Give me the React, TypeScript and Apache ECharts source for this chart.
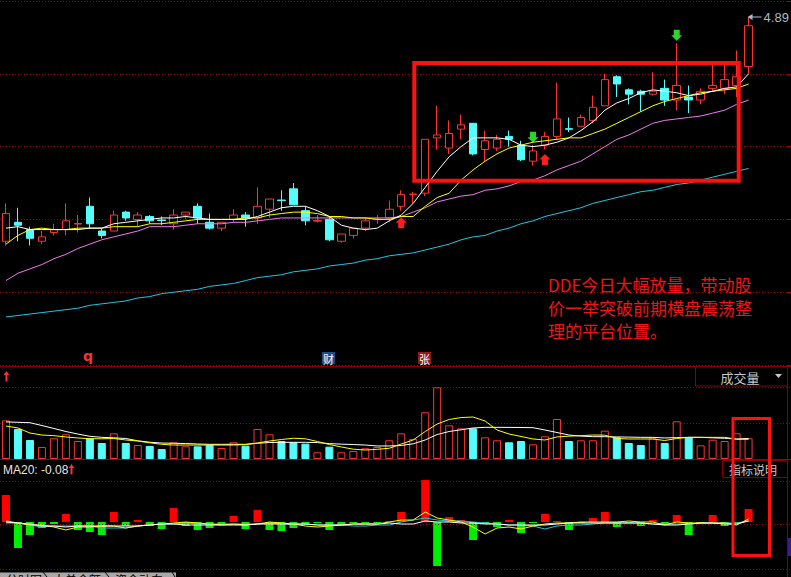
import React, { useEffect, useRef } from "react";
import * as echarts from "echarts";

// ---------- data ----------
const categories = [
  "D01","D02","D03","D04","D05","D06","D07","D08","D09","D10",
  "D11","D12","D13","D14","D15","D16","D17","D18","D19","D20",
  "D21","D22","D23","D24","D25","D26","D27","D28","D29","D30",
  "D31","D32","D33","D34","D35","D36","D37","D38","D39","D40",
  "D41","D42","D43","D44","D45","D46","D47","D48","D49","D50",
  "D51","D52","D53","D54","D55","D56","D57","D58","D59","D60",
  "D61","D62","D63","D64","D65","D66",
];

const open = [
  3.35,3.48,3.43,3.35,3.41,3.43,3.468,3.59,3.42,3.42,
  3.55,3.50,3.52,3.496,3.47,3.53,3.59,3.48,3.44,3.50,
  3.53,3.51,3.57,3.633,3.71,3.56,3.488,3.50,3.35,3.39,
  3.44,3.498,3.51,3.59,3.670,3.68,4.06,3.99,4.12,4.16,
  3.98,3.99,4.07,4.01,3.90,4.01,4.07,4.123,4.14,4.18,
  4.28,4.48,4.39,4.38,4.36,4.40,4.32,4.34,4.32,4.40,
  4.40,4.42,4.55,
];
const close = [
  3.54,3.46,3.37,3.38,3.43,3.49,3.472,3.47,3.39,3.53,
  3.51,3.53,3.49,3.492,3.53,3.55,3.51,3.44,3.48,3.53,
  3.51,3.59,3.64,3.629,3.60,3.49,3.492,3.36,3.40,3.44,
  3.49,3.502,3.57,3.67,3.674,4.05,4.08,4.09,4.15,3.95,
  4.04,4.05,4.05,3.91,3.97,4.07,4.19,4.119,4.20,4.27,
  4.46,4.43,4.36,4.36,4.38,4.32,4.42,4.32,4.38,4.42,
  4.46,4.48,4.83,
];
const low = [
  3.32,3.35,3.32,3.33,3.39,3.39,3.41,3.44,3.37,3.42,
  3.49,3.45,3.47,3.46,3.43,3.50,3.47,3.43,3.42,3.48,
  3.45,3.47,3.51,3.56,3.60,3.46,3.48,3.35,3.34,3.37,
  3.42,3.47,3.48,3.56,3.61,3.66,3.98,3.95,4.05,3.94,
  3.90,3.97,4.00,3.90,3.87,3.98,4.05,4.10,4.14,4.16,
  4.28,4.34,4.29,4.24,4.35,4.28,4.25,4.23,4.29,4.38,
  4.36,4.34,4.50,
];
const high = [
  3.61,3.58,3.45,3.42,3.47,3.61,3.53,3.65,3.44,3.56,
  3.56,3.55,3.53,3.52,3.57,3.55,3.61,3.54,3.48,3.57,
  3.55,3.72,3.64,3.70,3.75,3.59,3.53,3.52,3.40,3.44,
  3.51,3.53,3.63,3.70,3.69,4.05,4.28,4.18,4.22,4.16,
  4.11,4.08,4.11,4.04,4.01,4.10,4.44,4.20,4.22,4.35,
  4.50,4.49,4.40,4.39,4.51,4.46,4.71,4.42,4.40,4.57,
  4.56,4.66,4.89,
];

const ma5 = [
  3.44,3.45,3.43,3.43,3.43,3.43,3.43,3.44,3.44,3.47,
  3.48,3.49,3.50,3.51,3.51,3.52,3.51,3.50,3.50,3.50,
  3.50,3.52,3.55,3.58,3.59,3.59,3.56,3.52,3.46,3.44,
  3.43,3.44,3.49,3.53,3.61,3.72,3.83,3.93,4.00,4.06,
  4.06,4.06,4.05,4.01,4.00,4.01,4.03,4.06,4.11,4.17,
  4.25,4.30,4.33,4.37,4.39,4.38,4.37,4.35,4.36,4.38,
  4.40,4.41,4.50,
];
const ma10 = [
  3.33,3.39,3.43,3.44,3.43,3.43,3.44,3.44,3.44,3.45,
  3.45,3.45,3.47,3.47,3.48,3.49,3.50,3.50,3.50,3.50,
  3.51,3.51,3.53,3.54,3.55,3.55,3.54,3.52,3.52,3.51,
  3.51,3.50,3.50,3.52,3.52,3.59,3.65,3.68,3.77,3.84,
  3.90,3.95,3.99,4.01,4.03,4.04,4.05,4.06,4.06,4.09,
  4.12,4.16,4.20,4.24,4.28,4.31,4.33,4.35,4.37,4.38,
  4.39,4.40,4.43,
];
const ma20 = [
  3.08,3.13,3.16,3.19,3.23,3.26,3.30,3.33,3.36,3.38,
  3.40,3.42,3.45,3.45,3.45,3.46,3.47,3.47,3.47,3.48,
  3.48,3.49,3.50,3.51,3.51,3.51,3.51,3.51,3.51,3.51,
  3.51,3.51,3.51,3.52,3.55,3.58,3.62,3.64,3.66,3.67,
  3.70,3.71,3.73,3.76,3.77,3.80,3.84,3.87,3.90,3.95,
  4.00,4.05,4.08,4.12,4.16,4.18,4.19,4.20,4.21,4.23,
  4.25,4.29,4.32,
];
const ma60 = [
  2.83,2.84,2.85,2.86,2.87,2.88,2.89,2.91,2.92,2.93,
  2.94,2.96,2.97,2.99,3.00,3.01,3.02,3.04,3.05,3.06,
  3.08,3.10,3.11,3.12,3.14,3.15,3.16,3.18,3.19,3.20,
  3.22,3.23,3.25,3.26,3.27,3.29,3.31,3.33,3.36,3.38,
  3.39,3.42,3.44,3.47,3.49,3.52,3.54,3.56,3.58,3.61,
  3.63,3.65,3.67,3.69,3.70,3.72,3.74,3.75,3.77,3.79,
  3.81,3.83,3.85,
];

const volume = [
  5.37,4.17,2.64,1.67,2.88,3.43,2.50,2.88,2.22,3.57,
  2.22,1.94,1.81,1.39,2.32,1.76,1.76,1.94,1.53,2.32,
  1.85,4.17,3.43,2.50,2.32,2.13,0.93,1.71,0.93,1.11,
  1.49,1.67,2.60,3.57,2.78,6.49,9.96,4.68,4.26,4.26,
  3.01,2.60,2.32,2.50,2.04,3.15,5.56,2.50,2.60,2.60,
  3.93,3.01,2.22,1.94,2.88,2.22,5.24,3.01,1.90,2.68,
  2.50,3.57,2.88,
];
const volMa5 = [
  4.58,4.31,3.61,3.33,3.24,3.06,2.92,2.82,2.81,2.85,
  2.64,2.50,2.25,2.04,1.94,1.94,1.94,1.94,1.94,1.94,
  2.01,2.22,2.50,2.71,2.88,2.81,2.43,2.01,1.67,1.36,
  1.25,1.35,1.49,2.08,2.64,3.82,4.86,5.49,5.76,5.83,
  5.28,4.03,3.47,3.13,2.78,2.64,3.06,3.17,3.24,3.33,
  3.31,2.85,2.78,2.78,2.78,2.57,2.85,3.01,3.01,3.01,
  3.01,2.74,2.74,
];
const volMa10 = [
  5.15,5.10,5.04,4.65,4.24,3.82,3.47,3.15,3.01,2.94,
  2.85,2.53,2.33,2.22,2.18,2.15,2.08,2.04,2.04,2.04,
  2.04,2.19,2.29,2.32,2.32,2.32,2.28,2.14,2.06,2.01,
  1.94,1.81,1.81,1.88,2.11,2.64,3.40,3.82,4.06,4.31,
  4.40,4.40,4.39,4.38,4.35,4.03,3.68,3.33,3.19,3.10,
  3.10,3.07,3.04,3.01,3.01,2.92,2.97,3.01,3.01,2.94,
  2.88,2.78,2.85,
];

const dde = [
  0.27,-0.26,-0.13,-0.06,-0.02,0.08,-0.08,-0.10,-0.13,0.10,
  -0.04,0.02,-0.04,-0.07,0.14,-0.04,-0.08,-0.06,-0.03,0.06,
  -0.07,0.12,-0.08,-0.09,-0.06,-0.03,-0.01,-0.08,-0.03,-0.01,
  -0.01,-0.01,0.01,0.10,0.00,0.42,-0.44,0.05,0.02,-0.18,
  -0.02,-0.05,0.02,-0.11,-0.01,0.08,0.01,-0.08,-0.01,0.04,
  0.10,-0.05,-0.01,-0.04,0.02,-0.03,0.07,-0.13,-0.01,0.07,
  -0.04,-0.01,0.13,
];
const ddeWhite = [
  0.00,-0.01,-0.02,-0.04,-0.04,-0.05,-0.04,-0.04,-0.04,-0.04,
  -0.04,-0.04,-0.03,-0.02,-0.02,-0.03,-0.03,-0.03,-0.03,-0.03,
  -0.03,-0.02,-0.02,-0.02,-0.02,-0.02,-0.03,-0.03,-0.03,-0.02,
  -0.02,-0.02,-0.01,-0.02,-0.02,0.01,0.00,0.00,-0.01,-0.01,
  -0.02,-0.02,-0.03,-0.03,-0.03,-0.03,-0.02,-0.01,-0.01,-0.01,
  -0.01,-0.01,-0.01,-0.01,-0.02,-0.03,-0.03,-0.02,-0.01,-0.01,
  -0.02,-0.02,0.01,
];
const ddeYellow = [
  0.01,-0.01,-0.03,-0.03,-0.05,-0.08,-0.05,-0.05,-0.04,-0.04,
  -0.06,-0.04,-0.03,-0.02,-0.01,0.00,-0.01,-0.02,-0.03,-0.02,
  -0.03,-0.02,0.00,-0.01,-0.02,-0.04,-0.05,-0.04,-0.03,-0.02,
  -0.02,-0.02,0.00,0.02,0.02,0.10,0.04,0.02,0.00,-0.05,
  -0.12,-0.06,-0.05,-0.07,-0.04,-0.02,-0.01,-0.01,0.00,0.00,
  0.00,0.00,0.01,0.00,0.00,-0.03,0.00,-0.01,-0.01,-0.01,
  -0.01,-0.03,0.03,
];
const ddeCyan = [
  -0.01,-0.01,-0.03,-0.05,-0.04,-0.04,-0.04,-0.04,-0.06,-0.06,
  -0.06,-0.04,-0.03,-0.02,-0.02,-0.01,-0.02,-0.02,-0.02,-0.02,
  -0.02,-0.02,-0.01,-0.02,-0.02,-0.02,-0.03,-0.03,-0.03,-0.04,
  -0.04,-0.03,-0.03,0.00,0.02,0.04,0.02,0.01,0.01,0.00,
  -0.01,-0.02,-0.03,-0.03,-0.04,-0.07,-0.04,-0.03,-0.03,-0.02,
  -0.01,-0.01,-0.01,-0.01,-0.02,-0.02,-0.02,-0.02,-0.01,-0.01,
  -0.01,-0.01,0.01,
];
const ddeGridLines = [0.41, -0.02, -0.47];

const buySignals = [33, 45];
const sellSignals = [44, 56];
const annotationLines = [
  "DDE今日大幅放量，带动股",
  "价一举突破前期横盘震荡整",
  "理的平台位置。",
];
const ddeLegend = "MA20: -0.08";

// ---------- styles ----------
const RED = "#ff3232";
const CYAN = "#54fcfc";
const GRID_RED = "#9a0000";
const SEP = "#8a0000";
const CJK = '"Noto Sans CJK SC", "Noto Sans", sans-serif';

const upArrow = "path://M5.5,0 L11,5.5 L8.5,5.5 L8.5,11 L2.5,11 L2.5,5.5 L0,5.5 Z";
const downArrow = "path://M2.5,0 L8.5,0 L8.5,5.5 L11,5.5 L5.5,11 L0,5.5 L2.5,5.5 Z";
const leftArrow = "path://M0,3 L5,0 L5,2.5 L14,2.5 L14,3.5 L5,3.5 L5,6 Z";

function lineSeries(data: number[], color: string, axis: number) {
  return {
    type: "line",
    data,
    xAxisIndex: axis,
    yAxisIndex: axis,
    symbol: "none",
    showSymbol: false,
    silent: true,
    lineStyle: { width: 1, color },
    z: 5,
  };
}

function smallArrow(x: number, y: number) {
  return {
    type: "group",
    z: 100,
    children: [
      { type: "polygon", shape: { points: [[x - 2.8, y + 4], [x, y], [x + 2.8, y + 4]] }, style: { fill: "#ff3030" } },
      { type: "rect", shape: { x: x - 1, y: y + 3.5, width: 2, height: 7 }, style: { fill: "#ff3030" } },
    ],
  };
}

function buildOption() {
  const isUp = (i: number) => close[i] > open[i];
  const candleData = open.map((o, i) => [o, close[i], low[i], high[i]]);
  const volData = volume.map((v, i) => ({
    value: v,
    itemStyle: isUp(i)
      ? { color: "#000000", borderColor: RED, borderWidth: 1 }
      : { color: CYAN, borderColor: CYAN, borderWidth: 1 },
  }));
  const ddeData = dde.map((v) => ({
    value: v,
    itemStyle: { color: v >= 0 ? "#ff0000" : "#00ee00" },
  }));

  const markData: any[] = [];
  buySignals.forEach((i) =>
    markData.push({
      coord: [categories[i], low[i]],
      symbol: upArrow,
      symbolSize: [11, 11],
      symbolOffset: [0, i === 33 ? 12 : 10],
      itemStyle: { color: "#ff1e1e" },
      label: { show: false },
    })
  );
  sellSignals.forEach((i) =>
    markData.push({
      coord: [categories[i], high[i]],
      symbol: downArrow,
      symbolSize: [11, 11],
      symbolOffset: [0, -8],
      itemStyle: { color: "#2cd42c" },
      label: { show: false },
    })
  );
  const last = high.length - 1;
  markData.push({
    coord: [categories[last], high[last]],
    symbol: leftArrow,
    symbolSize: [14, 6],
    symbolOffset: [6, 0],
    itemStyle: { color: "#a9b9cf" },
    label: {
      show: true,
      position: "right",
      distance: 2,
      formatter: high[last].toFixed(2),
      color: "#a9b9cf",
      fontSize: 13,
      fontFamily: '"Liberation Sans", Arial, sans-serif',
    },
  });

  const xAxisBase = {
    type: "category",
    data: categories,
    boundaryGap: true,
    axisLine: { show: false },
    axisTick: { show: false },
    axisLabel: { show: false },
    splitLine: { show: false },
  };

  const graphic: any[] = [
    // separators
    { type: "line", z: 100, shape: { x1: 0, y1: 366.5, x2: 791, y2: 366.5 }, style: { stroke: SEP, lineWidth: 1 } },
    { type: "line", z: 100, shape: { x1: 0, y1: 459.5, x2: 791, y2: 459.5 }, style: { stroke: "#a00000", lineWidth: 1 } },
    { type: "line", z: 100, shape: { x1: 787.5, y1: 366, x2: 787.5, y2: 577 }, style: { stroke: SEP, lineWidth: 1 } },
    { type: "rect", z: 100, shape: { x: 788, y: 538, width: 3, height: 18 }, style: { fill: "#3a1d8a" } },
    // volume title box
    { type: "rect", z: 100, shape: { x: 695.5, y: 366.5, width: 92, height: 19.5 }, style: { fill: "#000", stroke: SEP, lineWidth: 1 } },
    { type: "text", z: 101, x: 740, y: 377, style: { text: "成交量", fill: "#c8c8c8", fontSize: 13, fontFamily: CJK, align: "center", verticalAlign: "middle" } },
    { type: "polygon", z: 101, shape: { points: [[775, 374], [782, 374], [778.5, 378]] }, style: { fill: "#c8c8c8" } },
    // indicator box
    { type: "rect", z: 100, shape: { x: 722.5, y: 460.5, width: 65, height: 17 }, style: { fill: "#000", stroke: SEP, lineWidth: 1 } },
    { type: "text", z: 101, x: 729, y: 469.5, style: { text: "指标说明", fill: "#c8c8c8", fontSize: 12, fontFamily: CJK, verticalAlign: "middle" } },
    // DDE legend text
    { type: "text", z: 101, x: 3, y: 469.5, style: { text: ddeLegend, fill: "#e6e6e6", fontSize: 12, fontFamily: '"Liberation Sans", Arial, sans-serif', verticalAlign: "middle" } },
    smallArrow(71.5, 464),
    smallArrow(6.5, 371),
    // event markers
    { type: "text", z: 101, x: 88, y: 356, style: { text: "q", fill: "#ff3030", fontSize: 14, fontWeight: "bold", fontFamily: '"DejaVu Sans", sans-serif', align: "center", verticalAlign: "middle" } },
    { type: "rect", z: 100, shape: { x: 322, y: 352, width: 13, height: 12 }, style: { fill: "#1d4d8e" } },
    { type: "text", z: 101, x: 328.5, y: 358.5, style: { text: "财", fill: "#ffffff", fontSize: 11, fontFamily: CJK, align: "center", verticalAlign: "middle" } },
    { type: "rect", z: 100, shape: { x: 418, y: 352, width: 13, height: 12 }, style: { fill: "#8e1c1c" } },
    { type: "text", z: 101, x: 424.5, y: 358.5, style: { text: "张", fill: "#ffffff", fontSize: 11, fontFamily: CJK, align: "center", verticalAlign: "middle" } },
    // highlight boxes
    { type: "rect", z: 110, shape: { x: 414.3, y: 63, width: 324.4, height: 117.7 }, style: { fill: "none", stroke: "#ff1010", lineWidth: 4 } },
    { type: "rect", z: 110, shape: { x: 733, y: 418.5, width: 36.5, height: 137 }, style: { fill: "none", stroke: "#ff1010", lineWidth: 3 } },
    // annotation
    { type: "text", z: 110, x: 548, y: 272.5, style: { text: annotationLines.join("\n"), fill: "#f01414", fontSize: 17, fontFamily: CJK, lineHeight: 23 } },
    // bottom tabs
    { type: "rect", z: 100, shape: { x: 0, y: 572.5, width: 176, height: 5 }, style: { fill: "#a8a8a8" } },
    { type: "text", z: 101, x: 6, y: 573, style: { text: "分时图", fill: "#000", fontSize: 12, fontFamily: CJK } },
    { type: "line", z: 101, shape: { x1: 43, y1: 572, x2: 47, y2: 577 }, style: { stroke: "#000", lineWidth: 1 } },
    { type: "text", z: 101, x: 53, y: 573, style: { text: "大单金额", fill: "#000", fontSize: 12, fontFamily: CJK } },
    { type: "line", z: 101, shape: { x1: 105, y1: 572, x2: 109, y2: 577 }, style: { stroke: "#000", lineWidth: 1 } },
    { type: "text", z: 101, x: 115, y: 573, style: { text: "资金动向", fill: "#000", fontSize: 12, fontFamily: CJK } },
    { type: "line", z: 101, shape: { x1: 172, y1: 572, x2: 175, y2: 577 }, style: { stroke: "#000", lineWidth: 1 } },
  ];

  return {
    animation: false,
    backgroundColor: "#000000",
    grid: [
      { left: -1.5, width: 792, top: 1, height: 364 },
      { left: -1.5, width: 792, top: 366, height: 93 },
      { left: -1.5, width: 792, top: 476, height: 94 },
    ],
    xAxis: [
      { ...xAxisBase, gridIndex: 0 },
      { ...xAxisBase, gridIndex: 1 },
      { ...xAxisBase, gridIndex: 2 },
    ],
    yAxis: [
      {
        type: "value",
        gridIndex: 0,
        min: 2.5,
        max: 5.0,
        interval: 0.5,
        position: "right",
        axisLine: { show: false },
        axisLabel: { show: false },
        axisTick: { show: true, inside: true, length: 3, lineStyle: { color: "#c00000" } },
        splitLine: { show: true, lineStyle: { color: GRID_RED, type: [1, 2], width: 1 } },
      },
      {
        type: "value",
        gridIndex: 1,
        min: 0,
        max: 12.92,
        interval: 5,
        axisLine: { show: false },
        axisLabel: { show: false },
        axisTick: { show: false },
        splitLine: { show: true, lineStyle: { color: GRID_RED, type: [1, 2], width: 1 } },
      },
      {
        type: "value",
        gridIndex: 2,
        min: -0.48,
        max: 0.46,
        axisLine: { show: false },
        axisLabel: { show: false },
        axisTick: { show: false },
        splitLine: { show: false },
      },
    ],
    series: [
      {
        type: "candlestick",
        xAxisIndex: 0,
        yAxisIndex: 0,
        data: candleData,
        barWidth: 8,
        silent: true,
        itemStyle: {
          color: "#000000",
          color0: CYAN,
          borderColor: RED,
          borderColor0: CYAN,
          borderWidth: 1,
        },
        markPoint: { silent: true, data: markData },
        z: 3,
      },
      lineSeries(ma60, "#22c6e2", 0),
      lineSeries(ma20, "#ef7bef", 0),
      lineSeries(ma10, "#ffff00", 0),
      lineSeries(ma5, "#ffffff", 0),
      {
        type: "bar",
        xAxisIndex: 1,
        yAxisIndex: 1,
        data: volData,
        barWidth: 8,
        silent: true,
        z: 3,
      },
      lineSeries(volMa10, "#ffffff", 1),
      lineSeries(volMa5, "#ffff00", 1),
      {
        type: "bar",
        xAxisIndex: 2,
        yAxisIndex: 2,
        data: ddeData,
        barWidth: 8,
        silent: true,
        z: 3,
        markLine: {
          silent: true,
          symbol: "none",
          label: { show: false },
          lineStyle: { color: GRID_RED, type: [1, 2], width: 1 },
          data: ddeGridLines.map((v) => ({ yAxis: v })),
        },
      },
      lineSeries(ddeCyan, "#22c6e2", 2),
      lineSeries(ddeYellow, "#ffff00", 2),
      lineSeries(ddeWhite, "#ffffff", 2),
    ],
    graphic,
  };
}

export default function App() {
  const ref = useRef<HTMLDivElement>(null);
  useEffect(() => {
    if (!ref.current) return;
    const chart = echarts.init(ref.current, null, { renderer: "svg" });
    chart.setOption(buildOption() as any);
    return () => chart.dispose();
  }, []);
  return (
    <div
      ref={ref}
      style={{ position: "fixed", left: 0, top: 0, width: 791, height: 577, background: "#000" }}
    />
  );
}
